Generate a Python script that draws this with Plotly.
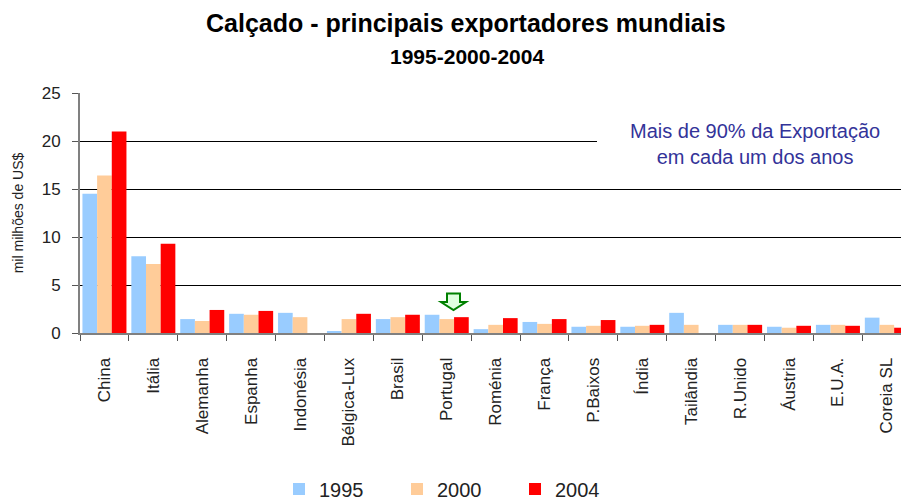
import plotly.graph_objects as go

paises = ["China", "Itália", "Alemanha", "Espanha", "Indonésia", "Bélgica-Lux", "Brasil",
          "Portugal", "Roménia", "França", "P.Baixos", "Índia", "Tailândia", "R.Unido",
          "Áustria", "E.U.A.", "Coreia SL"]
v1995 = [14.5, 8.0, 1.45, 2.0, 2.1, 0.2, 1.45, 1.9, 0.4, 1.15, 0.65, 0.65, 2.1, 0.85, 0.65, 0.85, 1.6]
v2000 = [16.4, 7.2, 1.25, 1.9, 1.65, 1.45, 1.65, 1.45, 0.85, 0.95, 0.75, 0.75, 0.85, 0.85, 0.55, 0.85, 0.85]
v2004 = [21.0, 9.3, 2.4, 2.3, None, 2.0, 1.9, 1.65, 1.55, 1.45, 1.35, 0.85, None, 0.85, 0.75, 0.75, 0.55]
anos = ["1995", "2000", "2004"]
cores = ["#99CCFF", "#FFCC99", "#FF0000"]
y_ticks = [0, 5, 10, 15, 20, 25]

ARIAL = "Liberation Sans, Arial, sans-serif"

W, H = 901, 502
ML, MR, MT, MB = 80, 0, 93, 169
PW, PH = W - ML - MR, H - MT - MB


def px_x(px):
    return (px - ML) / PW


def px_y(py):
    return (H - MB - py) / PH


fig = go.Figure()
for nome, vals, cor in zip(anos, [v1995, v2000, v2004], cores):
    fig.add_trace(go.Bar(x=paises, y=vals, name=nome, marker=dict(color=cor, line=dict(width=0))))

fig.update_layout(
    width=W, height=H,
    margin=dict(l=ML, r=MR, t=MT, b=MB, autoexpand=False),
    paper_bgcolor="white", plot_bgcolor="white",
    barmode="group", bargap=0.1, bargroupgap=0,
    showlegend=True,
    legend=dict(orientation="h", x=px_x(279), xanchor="left", y=px_y(489), yanchor="middle",
                font=dict(family=ARIAL, size=20, color="#222"), entrywidth=73,
                traceorder="normal", bgcolor="rgba(0,0,0,0)"),
    font=dict(family=ARIAL, color="#222"),
)

fig.update_xaxes(
    type="category", range=[-0.5, 16.29], automargin=False,
    showline=True, linecolor="#808080", linewidth=2,
    ticks="outside", tickson="boundaries", ticklen=6, tickcolor="#555", tickwidth=1,
    tickangle=-90, tickfont=dict(family=ARIAL, size=17, color="#222"),
    ticklabelstandoff=16, showgrid=False,
)
fig.update_yaxes(
    range=[0, 25], tickvals=y_ticks, automargin=False,
    showline=True, linecolor="#808080", linewidth=2,
    ticks="outside", ticklen=6, tickcolor="#555",
    tickfont=dict(family=ARIAL, size=17, color="#222"),
    ticklabelstandoff=8,
    showgrid=True, gridcolor="black", gridwidth=1, zeroline=False,
    title=dict(text="mil milhões de US$", font=dict(family=ARIAL, size=14, color="#222"), standoff=15),
)

# white box hiding the gridline behind the note
fig.add_shape(type="rect", xref="paper", yref="paper",
              x0=px_x(597), x1=1.01, y0=px_y(178), y1=px_y(112),
              fillcolor="white", line=dict(width=0), layer="above")

# green arrow above Portugal
pts = [(447, 293.5), (460, 293.5), (460, 302), (466, 302), (453.5, 310),
       (441, 302), (447, 302)]
path = "M " + " L ".join(f"{px_x(a):.5f},{px_y(b):.5f}" for a, b in pts) + " Z"
fig.add_shape(type="path", xref="paper", yref="paper", path=path,
              fillcolor="#E0FFE0", line=dict(color="#008000", width=2), layer="above")

fig.add_annotation(xref="paper", yref="paper", x=px_x(755), y=px_y(144),
                   xanchor="center", yanchor="middle",
                   text="Mais de 90% da Exportação<br>em cada um dos anos",
                   showarrow=False, align="center",
                   font=dict(family=ARIAL, size=20, color="#333399"))

fig.add_annotation(xref="paper", yref="paper", x=px_x(466), y=px_y(23),
                   xanchor="center", yanchor="middle",
                   text="<b>Calçado - principais exportadores mundiais</b>", showarrow=False,
                   font=dict(family=ARIAL, size=25, color="black"))
fig.add_annotation(xref="paper", yref="paper", x=px_x(467), y=px_y(56),
                   xanchor="center", yanchor="middle",
                   text="<b>1995-2000-2004</b>", showarrow=False,
                   font=dict(family=ARIAL, size=21, color="black"))

fig.write_html("out.html", config={"displayModeBar": False},
               post_script="document.body.style.margin='0';")
